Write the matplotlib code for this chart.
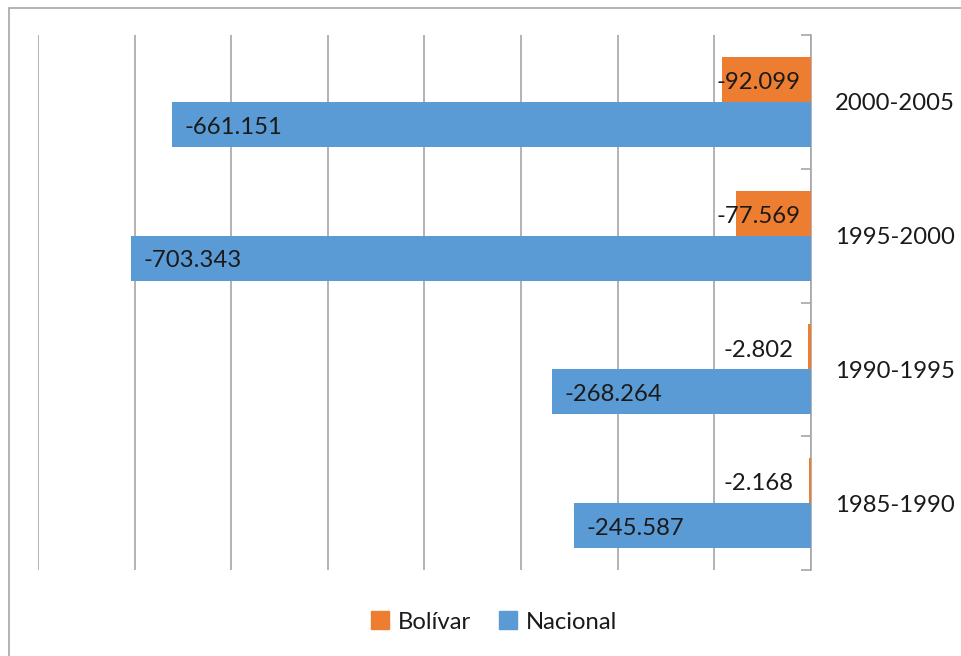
import matplotlib
matplotlib.use("Agg")
import matplotlib.pyplot as plt
import numpy as np
from matplotlib.patches import Patch, Rectangle

# data (bottom to top, as drawn)
periods = ["1985-1990", "1990-1995", "1995-2000", "2000-2005"]
bolivar = [-2.168, -2.802, -77.569, -92.099]
nacional = [-245.587, -268.264, -703.343, -661.151]
bolivar_labels = ["-2.168", "-2.802", "-77.569", "-92.099"]
nacional_labels = ["-245.587", "-268.264", "-703.343", "-661.151"]

ORANGE = "#ED7D31"
BLUE = "#5B9BD5"
GRID = "#A6A6A6"
TEXT = "#1A1A1A"

plt.rcParams["font.family"] = ["Lato", "DejaVu Sans"]
FS = 17.2

fig = plt.figure(figsize=(9.61, 6.56), dpi=100)
ax = fig.add_axes([38 / 961, 1 - 570 / 656, (811 - 38) / 961, (570 - 35) / 656])

y = np.arange(len(periods))
h = 0.336
ax.barh(y + h / 2, bolivar, height=h, color=ORANGE, zorder=3)
ax.barh(y - h / 2, nacional, height=h, color=BLUE, zorder=3)

# data labels
for yi, v, lab in zip(y, bolivar, bolivar_labels):
    ax.text(-54, yi + h / 2 - 0.025, lab, ha="center", va="center",
            fontsize=FS, color=TEXT, zorder=4)
for yi, v, lab in zip(y, nacional, nacional_labels):
    ax.text(v + 13, yi - h / 2 - 0.02, lab, ha="left", va="center",
            fontsize=FS, color=TEXT, zorder=4)

ax.set_xlim(-800, 0)
ax.set_ylim(-0.5, len(periods) - 0.5)
ax.set_xticks(np.arange(-800, 1, 100))
ax.xaxis.grid(True, color=GRID, lw=1.2, zorder=0)
ax.tick_params(axis="x", length=0, labelbottom=False)

for s in ["top", "bottom", "left"]:
    ax.spines[s].set_visible(False)
ax.spines["right"].set_color(GRID)
ax.spines["right"].set_linewidth(1.2)

ax.yaxis.tick_right()
ax.set_yticks(y)
ax.set_yticklabels(periods, fontsize=FS, color=TEXT)
ax.set_yticks(np.arange(-0.5, len(periods), 1), minor=True)
ax.tick_params(axis="y", which="major", length=0, pad=17)
ax.tick_params(axis="y", which="minor", direction="in", length=7,
               color=GRID, width=1.2)

handles = [Patch(color=ORANGE, label="Bolívar"), Patch(color=BLUE, label="Nacional")]
fig.legend(handles=handles, loc="center", bbox_to_anchor=(494 / 961, 1 - 622 / 656),
           ncol=2, frameon=False, fontsize=FS, handlelength=0.75, handleheight=0.75,
           handletextpad=0.35, columnspacing=1.2, labelcolor=TEXT)

# chart frame (only left and top visible in the crop)
fig.patches.append(Rectangle((8.5 / 961, -0.1), 1.2, 1 - 7.5 / 656 + 0.1,
                             transform=fig.transFigure, fill=False,
                             edgecolor="#A6A6A6", lw=1.2))

fig.savefig("out.png", dpi=100)
